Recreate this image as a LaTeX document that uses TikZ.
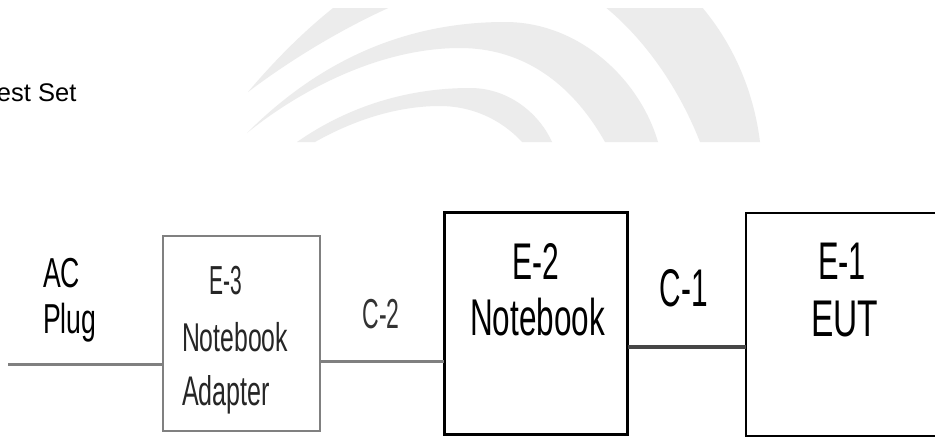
\documentclass[tikz,border=0pt]{standalone}
\usepackage{fontspec}
\setmainfont{Liberation Sans}
\usepackage{graphicx}
\definecolor{wm}{RGB}{236,236,236}
\definecolor{wire}{RGB}{128,128,128}
\definecolor{darkwire}{RGB}{70,70,70}
\newcommand{\vstretch}[2]{\scalebox{1}[#1]{#2}}
\newcommand{\fsz}[1]{\fontsize{#1}{#1}\selectfont}
\begin{document}
\begin{tikzpicture}[x=1pt,y=-1pt,
  box/.style={draw, rectangle, inner sep=0pt, outer sep=0pt, anchor=center},
  txt/.style={inner sep=0pt, outer sep=0pt, anchor=base},
  txtl/.style={inner sep=0pt, outer sep=0pt, anchor=base west},
  acwire/.style={draw=wire, line width=3pt},
  c2wire/.style={draw=wire, line width=3.5pt},
  c1wire/.style={draw=darkwire, line width=4pt}]
\useasboundingbox (0,0) rectangle (935,437);
\fill[white] (0,0) rectangle (935,437);
% watermark
\begin{scope}
\clip (0,8) rectangle (935,142);
\fill[wm] (248,92) .. controls (330,-5) and (430,-75) .. (545,-70)
  .. controls (650,-70) and (745,20) .. (760,142) -- (700,142)
  .. controls (660,40) and (580,-30) .. (520,-30)
  .. controls (440,-25) and (330,30) .. (248,92) -- cycle;
\fill[wm] (247,133) .. controls (330,50) and (420,22) .. (505,22)
  .. controls (580,22) and (640,80) .. (658,142) -- (605,142)
  .. controls (570,80) and (520,48) .. (460,48)
  .. controls (380,48) and (300,90) .. (247,133) -- cycle;
\fill[wm] (297,142) .. controls (350,105) and (410,88) .. (470,88)
  .. controls (510,88) and (540,115) .. (552,142) -- (522,142)
  .. controls (500,118) and (470,106) .. (440,106)
  .. controls (390,106) and (345,125) .. (315,142) -- cycle;
\end{scope}
% title
\node[txtl, font=\fsz{25.5}] (title) at (-3,101.5) {est Set};
% boxes
\node[box, draw=wire, line width=2.5pt, minimum width=157pt, minimum height=195pt] (e3) at (241.5,333.5) {};
\node[box, draw=black, line width=3pt, minimum width=183.5pt, minimum height=221.5pt] (e2) at (535.75,323.25) {};
\node[box, draw=black, line width=2pt, minimum width=200pt, minimum height=223pt] (e1) at (845.5,324.5) {};
% wires
\coordinate (acstart) at (8,364.5);
\coordinate (c2y) at (0,361.3);
\coordinate (c1y) at (0,347);
\draw[acwire] (acstart) -- (acstart -| e3.west);
\draw[c2wire] (e3.east |- c2y) -- (e2.west |- c2y);
\draw[c1wire] (e2.east |- c1y) -- (e1.west |- c1y);
% texts
\node[txtl, font=\fsz{26.6}] (ac) at (43,287) {\vstretch{1.575}{AC}};
\node[txtl, font=\fsz{26.6}] (plug) at (43,333) {\vstretch{1.575}{Plug}};
\node[txt, font=\fsz{21}, text=black!85] (e3id) at (226,294) {\vstretch{1.93}{E-3}};
\node[txtl, font=\fsz{24.8}, text=black!85] (e3nb) at (182,351) {\vstretch{1.62}{Notebook}};
\node[txtl, font=\fsz{25.1}, text=black!85] (e3ad) at (182,405) {\vstretch{1.65}{Adapter}};
\node[txt, font=\fsz{23}, text=black!80] (c2) at (381,328) {\vstretch{1.82}{C-2}};
\node[txt, font=\fsz{30}] (e2id) at (535.5,279) {\vstretch{1.72}{E-2}};
\node[txt, font=\fsz{31.5}] (e2nb) at (537.5,335) {\vstretch{1.64}{Notebook}};
\node[txt, font=\fsz{29.8}] (c1) at (684,306) {\vstretch{1.78}{C-1}};
\node[txt, font=\fsz{30.8}] (e1id) at (842,279) {\vstretch{1.72}{E-1}};
\node[txt, font=\fsz{33.5}] (e1eut) at (844.5,336) {\vstretch{1.54}{EUT}};
\end{tikzpicture}
\end{document}
